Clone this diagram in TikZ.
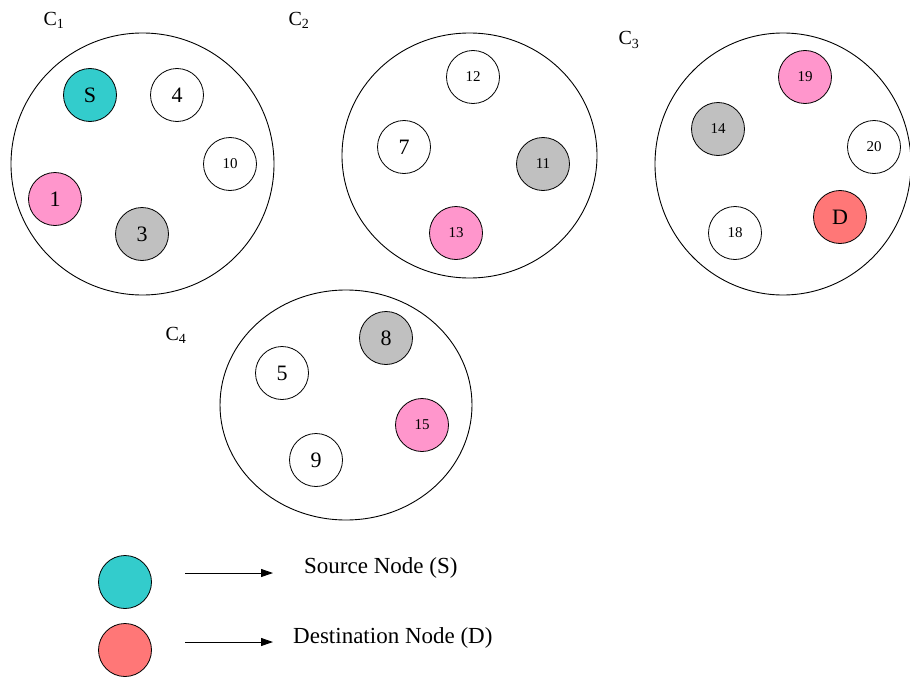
\documentclass[tikz,border=0pt]{standalone}
\usepackage{fontspec}
\setmainfont{Liberation Serif}
\usetikzlibrary{shapes.geometric,arrows.meta}
\definecolor{srccol}{RGB}{51,204,204}
\definecolor{pinkcol}{RGB}{255,150,204}
\definecolor{graycol}{RGB}{192,192,192}
\definecolor{dstcol}{RGB}{255,119,119}
\tikzset{
  cluster/.style={draw=black, line width=0.9pt, ellipse, inner sep=0pt},
  nd/.style={draw=black, line width=0.8pt, circle, minimum size=53pt, inner sep=0pt, font=\fontsize{22}{23}\selectfont},
  ndsm/.style={nd, font=\fontsize{15}{16}\selectfont},
  clab/.style={font=\fontsize{20}{22}\selectfont, inner sep=0pt},
  legtext/.style={font=\fontsize{23}{25}\selectfont, inner sep=0pt, anchor=west},
  legarrow/.style={line width=0.9pt, -{Triangle[length=12pt,width=8pt]}}
}
\begin{document}
\begin{tikzpicture}[x=1pt,y=-1pt]
\useasboundingbox (0,0) rectangle (910,677);
% clusters
\node[cluster, minimum width=263pt, minimum height=262pt] (c1) at (142.5,164) {};
\node[cluster, minimum width=255pt, minimum height=245pt] (c2) at (469.5,155.5) {};
\node[cluster, minimum width=256pt, minimum height=262pt] (c3) at (783,164) {};
\node[cluster, minimum width=252pt, minimum height=230pt] (c4) at (346,405) {};
% cluster labels
\node[clab] (l1) at (54,20) {C\textsubscript{1}};
\node[clab] (l2) at (299,20) {C\textsubscript{2}};
\node[clab] (l3) at (629,40) {C\textsubscript{3}};
\node[clab] (l4) at (176,335) {C\textsubscript{4}};
% C1 nodes
\node[nd, fill=srccol] (nS) at (90,95) {S};
\node[nd] (n4) at (177,95) {4};
\node[ndsm] (n10) at (230,164) {10};
\node[nd, fill=pinkcol] (n1) at (55,199) {1};
\node[nd, fill=graycol] (n3) at (142,234) {3};
% C2 nodes
\node[ndsm] (n12) at (473,77) {12};
\node[nd] (n7) at (404,147) {7};
\node[ndsm, fill=graycol] (n11) at (543,164) {11};
\node[ndsm, fill=pinkcol] (n13) at (456,233) {13};
% C3 nodes
\node[ndsm, fill=pinkcol] (n19) at (805,77) {19};
\node[ndsm, fill=graycol] (n14) at (718,129) {14};
\node[ndsm] (n20) at (874,147) {20};
\node[nd, fill=dstcol] (nD) at (840,217) {D};
\node[ndsm] (n18) at (735,233) {18};
% C4 nodes
\node[nd, fill=graycol] (n8) at (386,338) {8};
\node[nd] (n5) at (282,373) {5};
\node[ndsm, fill=pinkcol] (n15) at (422,425) {15};
\node[nd] (n9) at (316,460) {9};
% legend
\node[nd, fill=srccol] (legS) at (125,582) {};
\node[nd, fill=dstcol] (legD) at (125,650) {};
\coordinate (a1s) at (185,573);
\coordinate (a1e) at (273,573);
\coordinate (a2s) at (185,642);
\coordinate (a2e) at (273,642);
\draw[legarrow] (a1s) -- (a1e);
\draw[legarrow] (a2s) -- (a2e);
\node[legtext] (tS) at (304,568) {Source Node (S)};
\node[legtext] (tD) at (293,638) {Destination Node (D)};
\end{tikzpicture}
\end{document}
